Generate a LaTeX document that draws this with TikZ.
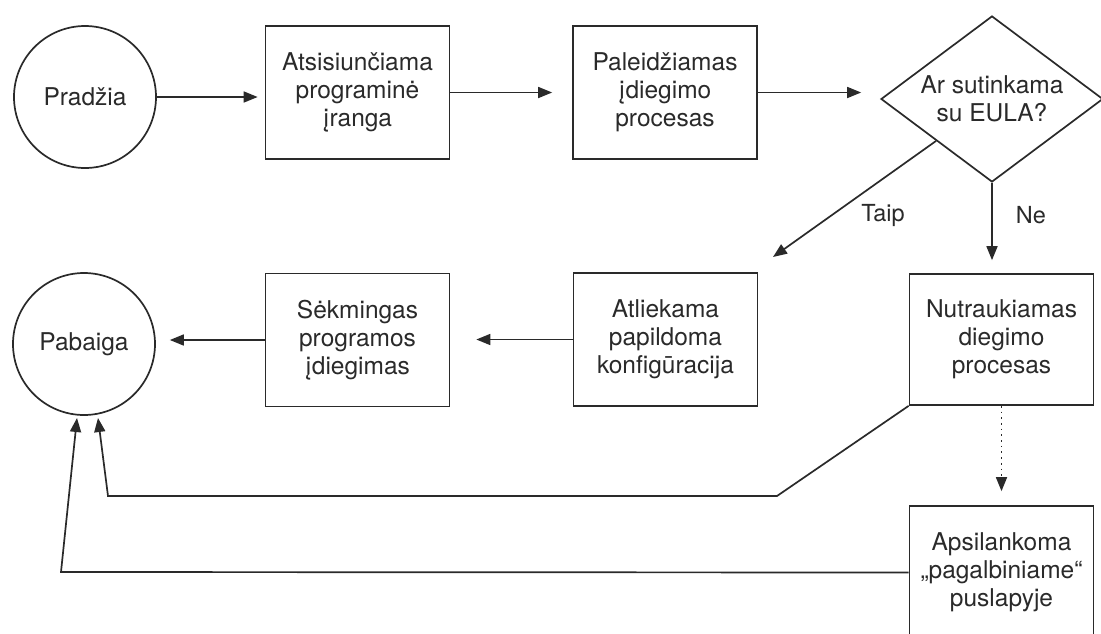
\documentclass[tikz,border=0pt]{standalone}
\usepackage{fontspec}
\setmainfont{TeX Gyre Heros}
\usetikzlibrary{arrows.meta,shapes.geometric,calc}
\definecolor{ink}{HTML}{2A2A2A}
\begin{document}
\begin{tikzpicture}[x=1pt,y=-1pt,
  every node/.style={font=\fontsize{24.5}{28}\selectfont, text=ink, align=center, inner sep=0pt},
  base/.style={draw=ink, line width=1.7pt},
  proc/.style={base, rectangle, minimum width=184pt, minimum height=133pt},
  term/.style={base, circle, minimum size=142pt},
  decide/.style={base, diamond, minimum width=222pt, minimum height=166pt},
  conn/.style={draw=ink, line width=1.7pt, -{Triangle[length=14pt,width=11pt]}},
  lbl/.style={font=\fontsize{23.5}{27}\selectfont}]
\useasboundingbox (0,0) rectangle (1101,633);
\fill[white] (0,0) rectangle (1101,633);

\node[term] (start) at (85,97) {Pradžia};
\node[proc] (dl) at (357.5,92.5) {Atsisiunčiama\\programinė\\įranga};
\node[proc] (run) at (665,92.5) {Paleidžiamas\\įdiegimo\\procesas};
\node[decide] (dia) at (992,99) {};
\node (diatext) at (dia.center) {Ar sutinkama\\su EULA?};

\node[term] (end) at (84,344) {Pabaiga};
\node[proc] (ok) at (357.5,340) {Sėkmingas\\programos\\įdiegimas};
\node[proc] (cfg) at (665.5,339.5) {Atliekama\\papildoma\\konfigūracija};
\node[proc, minimum height=131pt] (stop) at (1001.5,339.5) {Nutraukiamas\\diegimo\\procesas};
\node[proc] (help) at (1001.5,572.5) {Apsilankoma\\„pagalbiniame“\\puslapyje};

\node[lbl] (taip) at (883,215) {Taip};
\node[lbl] (ne) at (1031,215) {Ne};

\coordinate (taipend) at (773,257);
\coordinate (b1) at (777,496);
\coordinate (b2) at (108,496);
\coordinate (t1) at (98,418);
\coordinate (b3) at (61,572);
\coordinate (t2) at (77,418);

\draw[conn, shorten >=7pt] (start.east) -- (start.east -| dl.west);
\draw[conn, shorten >=20pt] (dl.east) -- (run.west);
\draw[conn, shorten >=19pt] (run.east) -- (run.east -| dia.west);
\draw[conn] (dia.south west) -- (taipend);
\draw[conn, shorten >=13pt] (dia.south) -- (dia.south |- stop.north);
\draw[conn, shorten >=26pt] (cfg.west) -- (cfg.west -| ok.east);
\draw[conn, shorten >=14pt] (ok.west) -- (ok.west -| end.east);
\draw[conn, dash pattern=on 1.7pt off 4pt, shorten >=14pt] (stop.south) -- (help.north);
\draw[conn] (stop.south west) -- (b1) -- (b2) -- (t1);
\draw[conn] (help.west) -- (b3) -- (t2);
\end{tikzpicture}
\end{document}
